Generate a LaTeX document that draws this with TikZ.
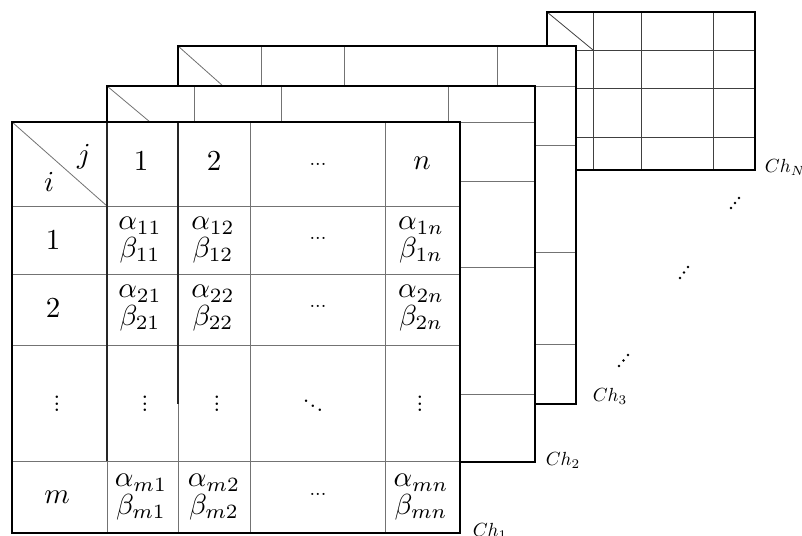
\documentclass[tikz,border=0pt]{standalone}
\begin{document}
\begin{tikzpicture}[x=1pt,y=-1pt,
  outer/.style={draw=black,line width=1.2pt},
  inner/.style={draw=black!55,line width=0.8pt},
  gridN/.style={draw=black!75,line width=0.8pt},
  edge/.style={draw=black!85,line width=1.1pt},
  cell/.style={font=\fontsize{10}{7.6}\selectfont,align=center,inner sep=0pt,scale=2.9},
  ell/.style={font=\fontsize{10}{10}\selectfont,inner sep=0pt,scale=2.0},
  vd/.style={font=\fontsize{10}{10}\selectfont\bfseries,inner sep=0pt,scale=1.6},
  chlab/.style={font=\fontsize{10}{12}\selectfont,inner sep=0pt,scale=1.9},
  dot/.style={fill=black}]
\useasboundingbox (0,0) rectangle (802,535);

% ---- table Ch_N (back)
\fill[white] (547,12) rectangle (755,170);
\foreach \x in {593,641,713} \draw[gridN] (\x,12) -- (\x,170);
\foreach \y in {50,88,137} \draw[gridN] (547,\y) -- (755,\y);
\draw[gridN] (547,12) -- (593,50);
\draw[outer] (547,12) rectangle (755,170);

% ---- table Ch_3
\fill[white] (178,46) rectangle (576,404);
\foreach \x in {261,344,497} \draw[inner] (\x,46) -- (\x,404);
\foreach \y in {86,145,252,344} \draw[inner] (178,\y) -- (576,\y);
\draw[inner] (178,46) -- (223,86);
\draw[outer] (178,46) rectangle (576,404);

% ---- table Ch_2
\fill[white] (107,86) rectangle (535,462);
\foreach \x in {194,281,448} \draw[inner] (\x,86) -- (\x,462);
\foreach \y in {122,181,267,394} \draw[inner] (107,\y) -- (535,\y);
\draw[inner] (107,86) -- (150,122);
\draw[outer] (107,86) rectangle (535,462);

% ---- table Ch_1 (front)
\fill[white] (12,122) rectangle (460,533);
\foreach \x in {107,178,250,385} \draw[inner] (\x,122) -- (\x,533);
\foreach \y in {206,274,345,461} \draw[inner] (12,\y) -- (460,\y);
\draw[inner] (12,122) -- (107,206);
\draw[edge] (107,122) -- (107,461);
\draw[edge] (178,122) -- (178,404);
\draw[outer] (12,122) rectangle (460,533);

% ---- header
\node[cell] (hj) at (84,157) {$j$};
\node[cell] (hi) at (49,182) {$i$};
\node[cell] (h1) at (141,161) {$1$};
\node[cell] (h2) at (214,161) {$2$};
\node[ell] (h3) at (318,164) {...};
\node[cell] (h4) at (422,163) {$n$};

% ---- row 1
\node[cell] (r1) at (53,240) {$1$};
\node[cell] (a11) at (140,240) {$\alpha_{11}$\\$\beta_{11}$};
\node[cell] (a12) at (213,240) {$\alpha_{12}$\\$\beta_{12}$};
\node[ell] (a13) at (318,238) {...};
\node[cell] (a1n) at (421,240) {$\alpha_{1n}$\\$\beta_{1n}$};

% ---- row 2
\node[cell] (r2) at (53,308) {$2$};
\node[cell] (a21) at (140,308) {$\alpha_{21}$\\$\beta_{21}$};
\node[cell] (a22) at (213,308) {$\alpha_{22}$\\$\beta_{22}$};
\node[ell] (a23) at (318,306) {...};
\node[cell] (a2n) at (421,308) {$\alpha_{2n}$\\$\beta_{2n}$};

% ---- row dots
\node[vd] (r3) at (57,399) {\vdots};
\node[vd] (d1) at (145,399) {\vdots};
\node[vd] (d2) at (217,399) {\vdots};
\node[vd] (d3) at (313,401) {$\ddots$};
\node[vd] (d4) at (420,399) {\vdots};

% ---- row m
\node[cell] (rm) at (57,497) {$m$};
\node[cell] (am1) at (141,497) {$\alpha_{m1}$\\$\beta_{m1}$};
\node[cell] (am2) at (214,497) {$\alpha_{m2}$\\$\beta_{m2}$};
\node[ell] (am3) at (318,494) {...};
\node[cell] (amn) at (421,497) {$\alpha_{mn}$\\$\beta_{mn}$};

% ---- channel labels
\node[chlab] (ch1) at (490,531) {$Ch_1$};
\node[chlab] (ch2) at (563,460) {$Ch_2$};
\node[chlab] (ch3) at (610,396) {$Ch_3$};
\node[chlab] (chN) at (785,167) {$Ch_N$};

% ---- diagonal dots between channels
\foreach \cx/\cy in {619/366,623.5/360.5,628/355,680/278,684/272.5,688/267,731/208,735/203,739/198}
  \fill[dot] (\cx,\cy) circle (1.3);
\end{tikzpicture}
\end{document}
